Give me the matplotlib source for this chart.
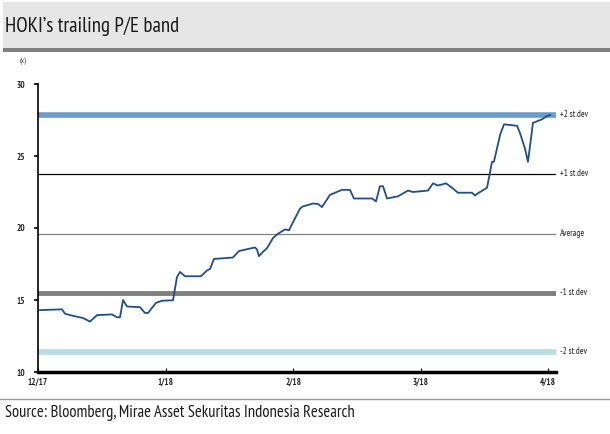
import matplotlib
matplotlib.use("Agg")
import matplotlib.pyplot as plt
from matplotlib.patches import Rectangle
from matplotlib.lines import Line2D

plt.rcParams['font.family'] = ['PT Sans Narrow', 'DejaVu Sans']

# position in months since 1 Dec 2017, trailing P/E (x)
t = [0.016, 0.188, 0.212, 0.275, 0.353, 0.408, 0.463, 0.580, 0.620, 0.643,
     0.667, 0.698, 0.800, 0.839, 0.863, 0.925, 0.973, 1.059, 1.090, 1.114,
     1.153, 1.278, 1.325, 1.349, 1.380, 1.529, 1.576, 1.702, 1.718, 1.733,
     1.765, 1.796, 1.843, 1.882, 1.937, 1.969, 2.000, 2.055, 2.078, 2.157,
     2.196, 2.227, 2.290, 2.384, 2.447, 2.478, 2.620, 2.651, 2.682, 2.706,
     2.737, 2.824, 2.902, 2.941, 3.059, 3.098, 3.137, 3.200, 3.247, 3.294,
     3.404, 3.427, 3.467, 3.522, 3.561, 3.576, 3.624, 3.655, 3.757, 3.780,
     3.820, 3.843, 3.882, 3.953, 3.984, 4.016]
pe = [14.3, 14.35, 14.05, 13.9, 13.75, 13.5, 13.95, 14.0, 13.8, 13.8,
      15.0, 14.55, 14.5, 14.1, 14.1, 14.8, 14.95, 14.98, 16.6, 16.95,
      16.65, 16.65, 17.05, 17.15, 17.85, 17.95, 18.4, 18.65, 18.5, 18.05,
      18.35, 18.6, 19.3, 19.6, 19.9, 19.85, 20.4, 21.35, 21.5, 21.7,
      21.67, 21.45, 22.3, 22.65, 22.65, 22.05, 22.05, 21.85, 22.9, 22.9,
      22.05, 22.2, 22.6, 22.5, 22.6, 23.1, 22.95, 23.1, 22.8, 22.45,
      22.45, 22.26, 22.5, 22.8, 24.6, 24.6, 26.46, 27.2, 27.1, 26.6,
      25.5, 24.6, 27.3, 27.55, 27.73, 27.85]

band_names = ['+2 st.dev', '+1 st.dev', 'Average', '-1 st.dev', '-2 st.dev']
band_values = [27.85, 23.75, 19.6, 15.5, 11.4]
band_colors = ['#6b9acb', '#000000', '#808080', '#808080', '#b5dde2']
band_widths = [4.0, 0.9, 0.9, 3.5, 4.0]

month_labels = ['12/17', '1/18', '2/18', '3/18', '4/18']

W, H = 610, 434
fig = plt.figure(figsize=(W / 100, H / 100), dpi=100)

# header band
fig.patches.append(Rectangle((3 / W, 1 - 48 / H), 1, 46 / H, transform=fig.transFigure,
                             facecolor='#e6e6e6', edgecolor='none'))
fig.patches.append(Rectangle((3 / W, 1 - 52 / H), 1, 4 / H, transform=fig.transFigure,
                             facecolor='#808080', edgecolor='none'))
fig.text(5 / W, 1 - 26 / H, "HOKI\u2019s trailing P/E band", fontsize=15,
         va='center', ha='left', color='#1a1a1a')

# footer
fig.lines.append(Line2D([0, 1], [1 - 399 / H, 1 - 399 / H], transform=fig.transFigure,
                        color='#9a9a9a', lw=1.0))
fig.text(5 / W, 1 - 413 / H, "Source: Bloomberg, Mirae Asset Sekuritas Indonesia Research",
         fontsize=11.9, va='center', ha='left', color='#1a1a1a')

fig.text(20 / W, 1 - 62 / H, "(x)", fontsize=5.5, va='center', ha='left', color='#333333')

ax = fig.add_axes([38 / W, 1 - 372 / H, (556 - 38) / W, (372 - 84) / H])
x_end = (556 - 38) / 127.5
ax.set_xlim(0, x_end)
ax.set_ylim(10, 30)

for name, v, c, lw in zip(band_names, band_values, band_colors, band_widths):
    ax.axhline(v, color=c, lw=lw, zorder=1)
    ax.text(x_end + 0.03, v, name, fontsize=6.5, va='center', ha='left',
            color='#222222', clip_on=False)

ax.plot(t, pe, color='#1f4e8c', lw=1.3, zorder=3)

ax.set_xticks(range(5))
ax.set_xticklabels(month_labels)
ax.set_yticks([10, 15, 20, 25, 30])

for s in ['top', 'right']:
    ax.spines[s].set_visible(False)
ax.spines['bottom'].set_linewidth(2.5)
ax.spines['left'].set_linewidth(1.2)
ax.tick_params(axis='x', direction='in', length=3, width=0.8, labelsize=6.5, pad=4)
ax.tick_params(axis='y', direction='out', length=3, width=1.2, labelsize=6.5, pad=6)
for lab in ax.get_xticklabels() + ax.get_yticklabels():
    lab.set_fontweight('bold')
    lab.set_color('#222222')

fig.savefig("out.png", dpi=100)
